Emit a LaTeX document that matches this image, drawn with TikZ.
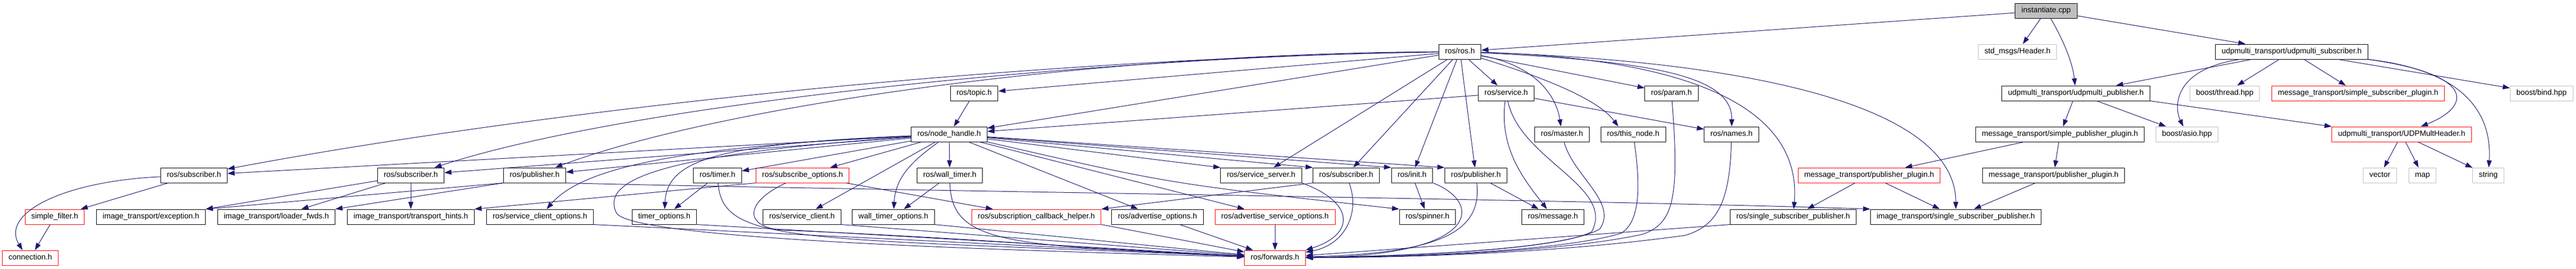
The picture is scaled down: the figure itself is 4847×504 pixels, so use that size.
\documentclass[tikz,border=0pt]{standalone}
\usepackage{fontspec}
\setmainfont{Liberation Sans}
\usetikzlibrary{arrows.meta}
\definecolor{edgeblue}{HTML}{191970}
\definecolor{boxgray}{HTML}{BFBFBF}
\tikzstyle{block} = [rectangle, draw=black, fill=white, line width=0.75pt,
    inner xsep=8.8pt, inner ysep=0pt, minimum height=21pt,
    text height=8pt, text depth=2.4pt, font=\fontsize{10.8}{13}\selectfont]
\tikzstyle{redblock} = [block, draw=red]
\tikzstyle{grayblock} = [block, draw=boxgray]
\tikzstyle{rootblock} = [block, fill=boxgray]
\tikzstyle{line} = [draw, edgeblue, line width=0.75pt, -{Triangle[length=10pt, width=7pt]}]

\begin{document}
\begin{tikzpicture}[x=0.75pt, y=-0.75pt]
	\useasboundingbox (0,0) rectangle (4847,504);

		\node [rootblock] (inst) at (3850,20) {instantiate.cpp};

		\node [block] (ros) at (2747,97) {ros/ros.h};
		\node [grayblock] (header) at (3796,97) {std\_msgs/Header.h};
		\node [block] (udpsub) at (4312,97) {udpmulti\_transport/udpmulti\_subscriber.h};

		\node [block] (topic) at (1833,175) {ros/topic.h};
		\node [block] (service) at (2834,175) {ros/service.h};
		\node [block] (param) at (3145,175) {ros/param.h};
		\node [block] (udppub) at (3906,175) {udpmulti\_transport/udpmulti\_publisher.h};
		\node [grayblock] (thread) at (4186,175) {boost/thread.hpp};
		\node [redblock] (simsub) at (4437,175) {message\_transport/simple\_subscriber\_plugin.h};
		\node [grayblock] (bind) at (4782,175) {boost/bind.hpp};

		\node [block] (nh) at (1786,252) {ros/node\_handle.h};
		\node [block] (master) at (2939,252) {ros/master.h};
		\node [block] (thisnode) at (3073,252) {ros/this\_node.h};
		\node [block] (names) at (3258,252) {ros/names.h};
		\node [block] (simpub) at (3876,252) {message\_transport/simple\_publisher\_plugin.h};
		\node [grayblock] (asio) at (4115,252) {boost/asio.hpp};
		\node [redblock] (udphdr) at (4519,252) {udpmulti\_transport/UDPMultHeader.h};

		\node [block] (subA) at (365,329) {ros/subscriber.h};
		\node [block] (subB) at (773,329) {ros/subscriber.h};
		\node [block] (pubB) at (1006,329) {ros/publisher.h};
		\node [block] (timer) at (1350,329) {ros/timer.h};
		\node [redblock] (subopts) at (1510,329) {ros/subscribe\_options.h};
		\node [block] (walltimer) at (1787,329) {ros/wall\_timer.h};
		\node [block] (srvserver) at (2373,329) {ros/service\_server.h};
		\node [block] (subC) at (2533,329) {ros/subscriber.h};
		\node [block] (init) at (2657,329) {ros/init.h};
		\node [block] (pubC) at (2777,329) {ros/publisher.h};
		\node [redblock] (pubplugR) at (3517,329) {message\_transport/publisher\_plugin.h};
		\node [block] (pubplug) at (3864,329) {message\_transport/publisher\_plugin.h};
		\node [grayblock] (vector) at (4478,329) {vector};
		\node [grayblock] (map) at (4558,329) {map};
		\node [grayblock] (string) at (4682,329) {string};

		\node [redblock] (simfilter) at (103,407) {simple\_filter.h};
		\node [block] (exception) at (284,407) {image\_transport/exception.h};
		\node [block] (loader) at (520,407) {image\_transport/loader\_fwds.h};
		\node [block] (hints) at (773,407) {image\_transport/transport\_hints.h};
		\node [block] (srvcliopts) at (1016,407) {ros/service\_client\_options.h};
		\node [block] (timeropts) at (1250,407) {timer\_options.h};
		\node [block] (srvclient) at (1509,407) {ros/service\_client.h};
		\node [block] (walltimeropts) at (1681,407) {wall\_timer\_options.h};
		\node [redblock] (subcb) at (1950,407) {ros/subscription\_callback\_helper.h};
		\node [block] (advopts) at (2178,407) {ros/advertise\_options.h};
		\node [redblock] (advsrvopts) at (2399,407) {ros/advertise\_service\_options.h};
		\node [block] (spinner) at (2686,407) {ros/spinner.h};
		\node [block] (message) at (2922,407) {ros/message.h};
		\node [block] (rosssp) at (3374,407) {ros/single\_subscriber\_publisher.h};
		\node [block] (itssp) at (3680,407) {image\_transport/single\_subscriber\_publisher.h};

		\node [redblock] (connection) at (57,484) {connection.h};
		\node [redblock] (forwards) at (2399,484) {ros/forwards.h};

		\path [line] (inst) -- (ros);
		\path [line] (inst) -- (header);
		\path [line] (inst) .. controls (3885,80) and (3900,120) .. (udppub);
		\path [line] (inst) -- (udpsub);

		\path [line] (ros) .. controls (1900,110) and (1000,210) .. (subA);
		\path [line] (ros) .. controls (2100,105) and (1200,190) .. (subB);
		\path [line] (ros) .. controls (2050,100) and (1350,200) .. (pubB);
		\path [line] (ros) -- (topic);
		\path [line] (ros) -- (nh);
		\path [line] (ros) -- (srvserver);
		\path [line] (ros) -- (subC);
		\path [line] (ros) -- (init);
		\path [line] (ros) -- (pubC);
		\path [line] (ros) -- (service);
		\path [line] (ros) .. controls (2900,125) and (2930,190) .. (master);
		\path [line] (ros) .. controls (2920,150) and (3010,190) .. ([xshift=-21pt]thisnode.north);
		\path [line] (ros) -- (param);
		\path [line] (ros) .. controls (3100,115) and (3260,140) .. (names);
		\path [line] (ros) .. controls (3200,110) and (3390,210) .. (rosssp);
		\path [line] (ros) .. controls (3300,115) and (3680,200) .. (itssp);

		\path [line] (topic) -- (nh);
		\path [line] (service) -- (nh);
		\path [line] (service) -- (names);
		\path [line] (service) .. controls (2820,280) and (2870,340) .. (message);
		\path [line] (service) .. controls (2860,300) and (3040,350) .. (2995,435) .. controls (2940,465) and (2700,480) .. (forwards);

		\path [line] (nh) -- (subA);
		\path [line] (nh) -- (subB);
		\path [line] (nh) -- (pubB);
		\path [line] (nh) -- (timer);
		\path [line] (nh) .. controls (1350,270) and (1255,300) .. (timeropts);
		\path [line] (nh) .. controls (1300,275) and (1100,310) .. (srvcliopts);
		\path [line] (nh) .. controls (1230,290) and (1130,340) .. (1160,400) .. controls (1190,450) and (1900,470) .. (forwards);
		\path [line] (nh) -- (subopts);
		\path [line] (nh) -- (srvclient);
		\path [line] (nh) .. controls (1720,300) and (1685,330) .. (walltimeropts);
		\path [line] (nh) -- (walltimer);
		\path [line] (nh) -- (srvserver.north west);
		\path [line] (nh) -- (subC.north west);
		\path [line] (nh) -- (init.north west);
		\path [line] (nh) -- (pubC.north west);
		\path [line] (nh.south east) .. controls (2200,345) .. (spinner.north west);
		\path [line] (nh) -- (advopts);
		\path [line] (nh) -- (advsrvopts);

		\path [line] (subA) -- (simfilter);
		\path [line] (subA) .. controls (120,340) and (0,400) .. ([xshift=-11pt]connection.north);
		\path [line] (simfilter) -- (connection);
		\path [line] (subB) -- (exception.north east);
		\path [line] (subB) -- (loader);
		\path [line] (subB) -- (hints);
		\path [line] (pubB.south west) -- (exception.north east);
		\path [line] (pubB.south west) -- (loader.north east);
		\path [line] (pubB.south east) .. controls (1500,355) and (3000,375) .. (itssp.north west);

		\path [line] (timer) -- (timeropts);
		\path [line] (timer) .. controls (1360,460) and (1500,445) .. (forwards);
		\path [line] (timeropts.south east) -- (forwards);
		\path [line] (srvcliopts.south east) -- (forwards);
		\path [line] (srvclient.south east) -- (forwards);
		\path [line] (walltimeropts.south east) -- (forwards);
		\path [line] (walltimer) -- (walltimeropts);
		\path [line] (walltimer) .. controls (1790,460) and (1900,460) .. (forwards);
		\path [line] (subopts) -- (subcb);
		\path [line] (subopts.south west) -- (hints.north east);
		\path [line] (subopts) .. controls (1400,380) and (1400,425) .. (1470,432) .. controls (1800,445) and (2100,470) .. (forwards);
		\path [line] (subcb.south east) -- (forwards);
		\path [line] (advopts) -- (forwards);
		\path [line] (advsrvopts) -- (forwards);

		\path [line] (srvserver.south east) .. controls (2550,380) and (2550,440) .. (forwards.north east);
		\path [line] (subC.south west) -- (subcb.north east);
		\path [line] (subC) .. controls (2560,400) and (2530,460) .. (forwards);
		\path [line] (init) -- (spinner);
		\path [line] (init.south east) .. controls (2790,380) and (2790,480) .. (forwards);
		\path [line] (pubC) -- (message);
		\path [line] (pubC) .. controls (2790,440) and (2700,475) .. (forwards);
		\path [line] (master) .. controls (2960,330) and (3045,380) .. (3010,430) .. controls (2950,465) and (2700,480) .. (forwards);
		\path [line] (thisnode) .. controls (3090,370) and (3080,420) .. (3050,438) .. controls (2950,468) and (2700,482) .. (forwards);
		\path [line] (param) .. controls (3160,370) and (3150,420) .. (3090,440) .. controls (2950,470) and (2700,482) .. (forwards);
		\path [line] (names) .. controls (3255,380) and (3230,425) .. (3170,442) .. controls (2950,472) and (2700,483) .. (forwards);
		\path [line] (rosssp.south west) -- (forwards);

		\path [line] (udpsub) -- (udppub);
		\path [line] (udpsub) .. controls (4090,130) and (4090,200) .. (asio);
		\path [line] (udpsub) -- (thread);
		\path [line] (udpsub) -- (simsub);
		\path [line] (udpsub) -- (bind);
		\path [line] (udpsub.south east) .. controls (4660,140) and (4650,200) .. ([xshift=27pt]udphdr.north);
		\path [line] (udpsub.south east) .. controls (4620,130) and (4690,200) .. (string);
		\path [line] (udppub) -- (simpub);
		\path [line] (udppub) -- (asio);
		\path [line] (udppub.south east) -- (udphdr.north west);
		\path [line] (simpub) -- (pubplug);
		\path [line] (simpub) -- (pubplugR);
		\path [line] (pubplug) -- (itssp);
		\path [line] (pubplugR) -- (rosssp);
		\path [line] (pubplugR) -- (itssp);
		\path [line] (udphdr) -- (vector);
		\path [line] (udphdr) -- (map);
		\path [line] (udphdr) -- (string);
	\end{tikzpicture}
\end{document}
